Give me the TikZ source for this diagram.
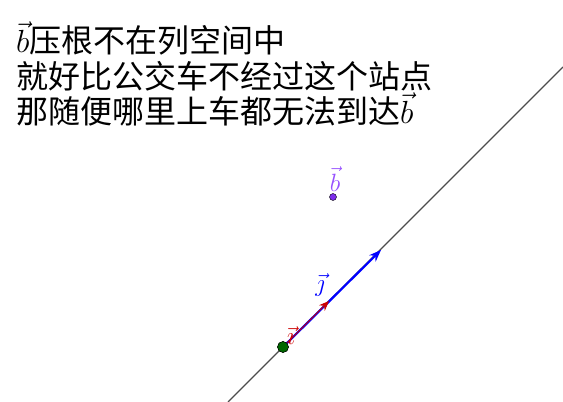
\RequirePackage{fix-cm}
\documentclass[tikz,border=0pt]{standalone}
\usepackage{amsmath}
\usepackage{fontspec}
\newfontfamily\cjk{Noto Sans CJK SC}
\usetikzlibrary{arrows.meta}
\colorlet{myred}{red!80!black}
\colorlet{myblue}{blue}
\definecolor{mypurple}{RGB}{150,80,255}
\definecolor{mydot}{RGB}{125,45,235}
\colorlet{mygreen}{green!40!black}
\colorlet{mygray}{black!70}
\tikzset{
  >=latex,
  x=1pt,y=1pt,
  text line/.style={anchor=base west,inner sep=0,font=\cjk\fontsize{32}{35}\selectfont},
  span line/.style={mygray,line width=1.2pt},
  vec arrow/.style={-{Stealth[length=12,width=9]},line width=2.2pt},
  point/.style={circle,draw=black,inner sep=0,minimum size=#1},
  label vec/.style={inner sep=0,font=\fontsize{25}{25}\selectfont}
}
\begin{document}
\begin{tikzpicture}
    \useasboundingbox (0,0) rectangle (563,402);
    % text
    \node[text line] (line1) at (16,349) {$\vec{b}$压根不在列空间中};
    \node[text line] (line2) at (16,313) {就好比公交车不经过这个站点};
    \node[text line] (line3) at (16,278) {那随便哪里上车都无法到达$\vec{b}$};
    % column space
    \coordinate (lo) at (228,0);
    \coordinate (hi) at (563,335);
    \draw[span line] (lo) -- (hi);
    \node[point=11,fill=mygreen] (o) at (283,55) {};
    \coordinate (i) at (329,101);
    \coordinate (j) at (381,152);
    \draw[vec arrow,myblue] (o.center) -- (j);
    \draw[vec arrow,myred,line width=1pt,-{Stealth[length=10,width=8]}] (o.center) -- (i);
    \node[point=11,fill=mygreen] at (o) {};
    \node[label vec,myred] (li) at (291,66) {$\vec{\imath}$};
    \node[label vec,myblue] (lj) at (320,117) {$\vec{\jmath}$};
    % b
    \node[point=7,fill=mydot] (b) at (333,205) {};
    \node[label vec,mypurple] (lb) at (335,223) {$\vec{b}$};
\end{tikzpicture}
\end{document}
